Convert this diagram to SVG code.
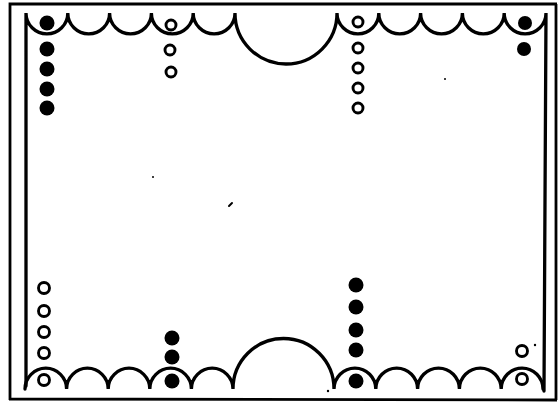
<svg xmlns="http://www.w3.org/2000/svg" width="558" height="404" viewBox="0 0 558 404">
<style>
.frame{fill:none;stroke:#000;stroke-width:2.8}
.ln{fill:none;stroke:#000;stroke-width:3.3;stroke-linejoin:miter;stroke-linecap:round}
.f{fill:#000}
.o{fill:none;stroke:#000;stroke-width:2.9}
.spec{fill:#000}
</style>
<rect width="558" height="404" fill="#fff"/>
<g id="frame">
<path class="frame" d="M10,400 L10,4 L557,4 M9,399 L557,400 M556,4 L556,400"/>
</g>
<g id="connectors">
<path class="ln" d="M26,386 L26,13 A20.9,20.9 0 0 0 67.8,13 A20.9,20.9 0 0 0 109.6,13 A20.9,20.9 0 0 0 151.4,13 A20.9,20.9 0 0 0 193.2,13 A20.9,20.9 0 0 0 235,13 A51,51 0 0 0 337,13 A20.9,20.9 0 0 0 378.8,13 A20.9,20.9 0 0 0 420.6,13 A20.9,20.9 0 0 0 462.4,13 A20.9,20.9 0 0 0 504.2,13 A20.9,20.9 0 0 0 546,13 L544,391"/>
<path class="ln" d="M25,389 A20.8,20.8 0 0 1 66.6,389 A20.8,20.8 0 0 1 108.2,389 A20.8,20.8 0 0 1 149.8,389 A20.8,20.8 0 0 1 191.4,389 A20.8,20.8 0 0 1 233,389 A50.5,50.5 0 0 1 334,389 A20.8,20.8 0 0 1 375.8,389 A20.8,20.8 0 0 1 417.6,389 A20.8,20.8 0 0 1 459.4,389 A20.8,20.8 0 0 1 501.2,389 A20.8,20.8 0 0 1 543,389"/>
</g>
<g id="top-left-black">
<circle class="f" cx="47" cy="23" r="7.5"/>
<circle class="f" cx="47" cy="49" r="7.5"/>
<circle class="f" cx="47" cy="69" r="7.5"/>
<circle class="f" cx="47" cy="89" r="7.5"/>
<circle class="f" cx="47" cy="108" r="7.5"/>
</g>
<g id="top-left-white">
<circle class="o" cx="171" cy="25" r="5"/>
<circle class="o" cx="170" cy="50" r="5"/>
<circle class="o" cx="171" cy="72" r="5"/>
</g>
<g id="top-right-white">
<circle class="o" cx="358" cy="22" r="5"/>
<circle class="o" cx="358" cy="48" r="5"/>
<circle class="o" cx="358" cy="68" r="5"/>
<circle class="o" cx="358" cy="88" r="5"/>
<circle class="o" cx="358" cy="108" r="5"/>
</g>
<g id="top-right-black">
<circle class="f" cx="525" cy="23" r="7"/>
<circle class="f" cx="524" cy="49" r="7"/>
</g>
<g id="bottom-left-white">
<circle class="o" cx="44" cy="288" r="5.5"/>
<circle class="o" cx="44" cy="311" r="5.5"/>
<circle class="o" cx="44" cy="332" r="5.5"/>
<circle class="o" cx="44" cy="353" r="5.5"/>
<circle class="o" cx="44" cy="380" r="5.5"/>
</g>
<g id="bottom-left-black">
<circle class="f" cx="172" cy="338" r="7.5"/>
<circle class="f" cx="172" cy="357" r="7.5"/>
<circle class="f" cx="172" cy="381" r="7.5"/>
</g>
<g id="bottom-right-black">
<circle class="f" cx="356" cy="285" r="7.5"/>
<circle class="f" cx="356" cy="307" r="7.5"/>
<circle class="f" cx="356" cy="330" r="7.5"/>
<circle class="f" cx="356" cy="350" r="7.5"/>
<circle class="f" cx="356" cy="381" r="7.5"/>
</g>
<g id="bottom-right-white">
<circle class="o" cx="522" cy="351" r="5.5"/>
<circle class="o" cx="522" cy="379" r="5.5"/>
</g>
<g id="specks">
<circle class="spec" cx="153" cy="177" r="1"/>
<path d="M229,206 L232,203" stroke="#000" stroke-width="2" stroke-linecap="round"/>
<circle class="spec" cx="445" cy="79" r="1"/>
<circle class="spec" cx="535" cy="345" r="1.2"/>
<circle class="spec" cx="328" cy="391" r="1.2"/>
</g>
</svg>
